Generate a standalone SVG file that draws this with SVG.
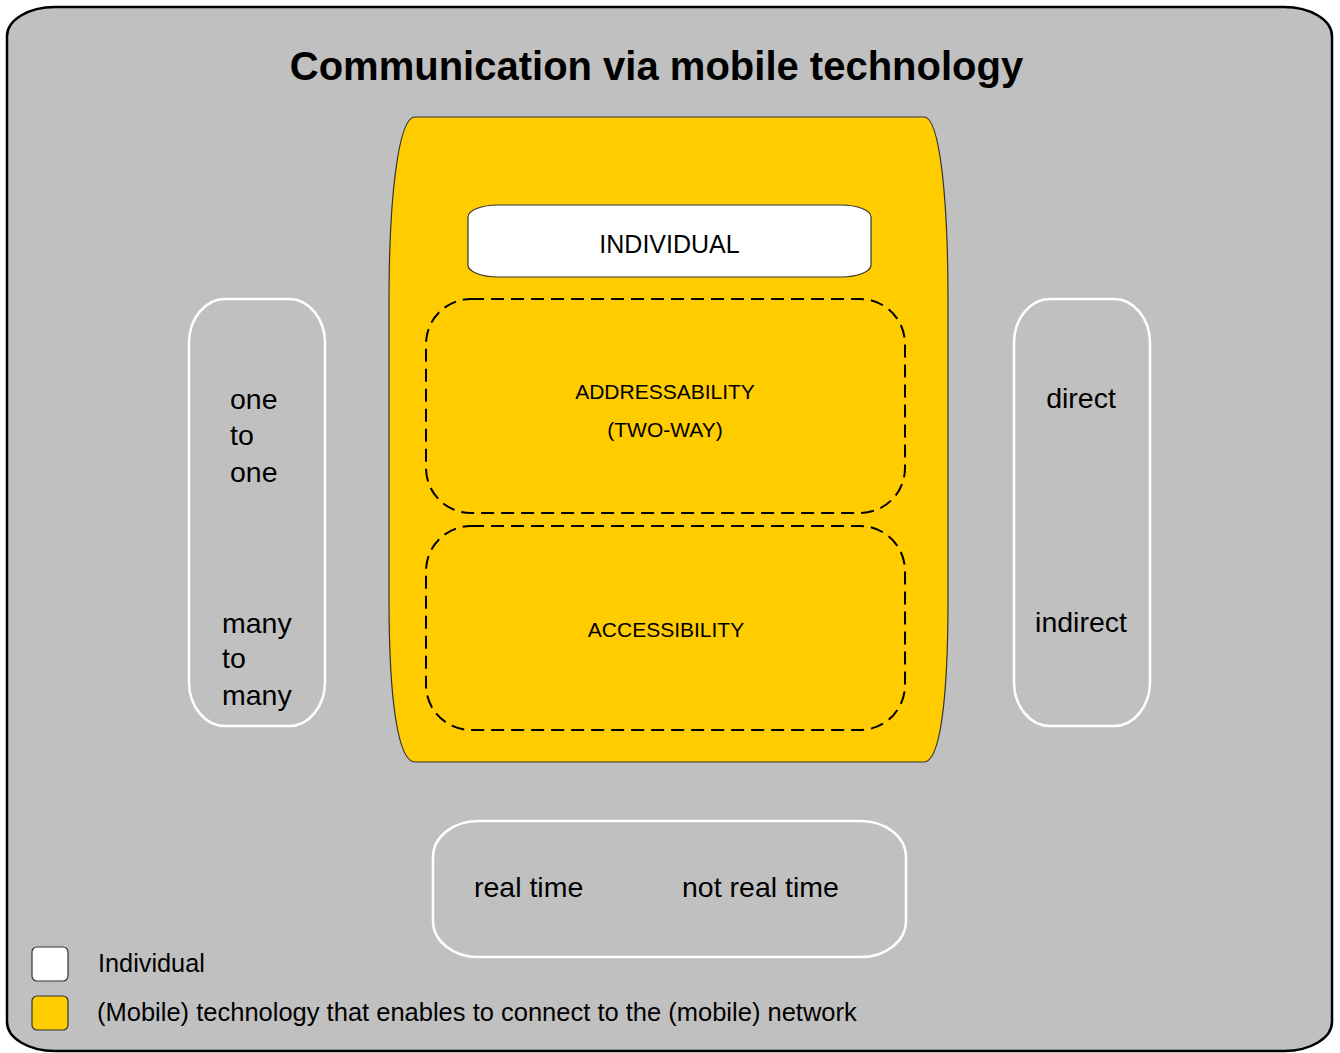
<svg xmlns="http://www.w3.org/2000/svg" width="1340" height="1053" viewBox="0 0 1340 1053">
<style>
text{font-family:"Liberation Sans",Arial,sans-serif;fill:#000}
.title{font-size:40px;font-weight:bold;text-anchor:middle}
.side{fill:none;stroke:#fff;stroke-width:2.5}
.dash{fill:none;stroke:#000;stroke-width:2;stroke-dasharray:13 7}
.t28{font-size:28.5px}
.t21{font-size:21px;text-anchor:middle}
.t25{font-size:25px}
.mid{text-anchor:middle}
</style>
<g id="background">
<rect x="7" y="7" width="1325" height="1044" rx="48" ry="29" fill="#c0c0c0" stroke="#000" stroke-width="2.5"/>
</g>
<g id="title"><text class="title" x="656.5" y="80">Communication via mobile technology</text></g>
<g id="technology">
<path d="M415,117 H924 C940,117 948,200 948,300 V600 C948,700 940,762 924,762 H415 C398,762 389,700 389,600 V300 C389,200 398,117 415,117 Z" fill="#ffcc00" stroke="#333" stroke-width="1.2"/>
</g>
<g id="individual">
<rect x="468" y="205" width="403" height="72" rx="30" ry="12" fill="#fff" stroke="#333" stroke-width="1.2"/>
<text class="t25 mid" x="669.5" y="253">INDIVIDUAL</text>
</g>
<g id="addressability">
<rect class="dash" x="426" y="299" width="479" height="214" rx="45" ry="45"/>
<text class="t21" x="665" y="399">ADDRESSABILITY</text>
<text class="t21" x="665" y="437">(TWO-WAY)</text>
</g>
<g id="accessibility">
<rect class="dash" x="426" y="526" width="479" height="204" rx="45" ry="45"/>
<text class="t21" x="666" y="637">ACCESSIBILITY</text>
</g>
<g id="one-to-one">
<rect class="side" x="189" y="299" width="136" height="427" rx="36" ry="44"/>
<text class="t28" x="230" y="409">one</text>
<text class="t28" x="230" y="445">to</text>
<text class="t28" x="230" y="482">one</text>
<text class="t28" x="222" y="633">many</text>
<text class="t28" x="222" y="668">to</text>
<text class="t28" x="222" y="705">many</text>
</g>
<g id="direct">
<rect class="side" x="1014" y="299" width="136" height="427" rx="36" ry="44"/>
<text class="t28 mid" x="1081" y="408">direct</text>
<text class="t28 mid" x="1081" y="632">indirect</text>
</g>
<g id="time">
<rect class="side" x="433" y="821" width="473" height="136" rx="45" ry="36"/>
<text class="t28" x="474" y="897">real time</text>
<text class="t28" x="682" y="897">not real time</text>
</g>
<g id="legend">
<rect x="32" y="947" width="36" height="34" rx="5" fill="#fff" stroke="#333" stroke-width="1.2"/>
<text class="t25" x="98" y="972" style="font-size:25.3px">Individual</text>
<rect x="32" y="996" width="36" height="34" rx="5" fill="#ffcc00" stroke="#333" stroke-width="1.2"/>
<text class="t25" x="97" y="1021" style="font-size:25.5px">(Mobile) technology that enables to connect to the (mobile) network</text>
</g>
<g id="connectors"></g>
</svg>
